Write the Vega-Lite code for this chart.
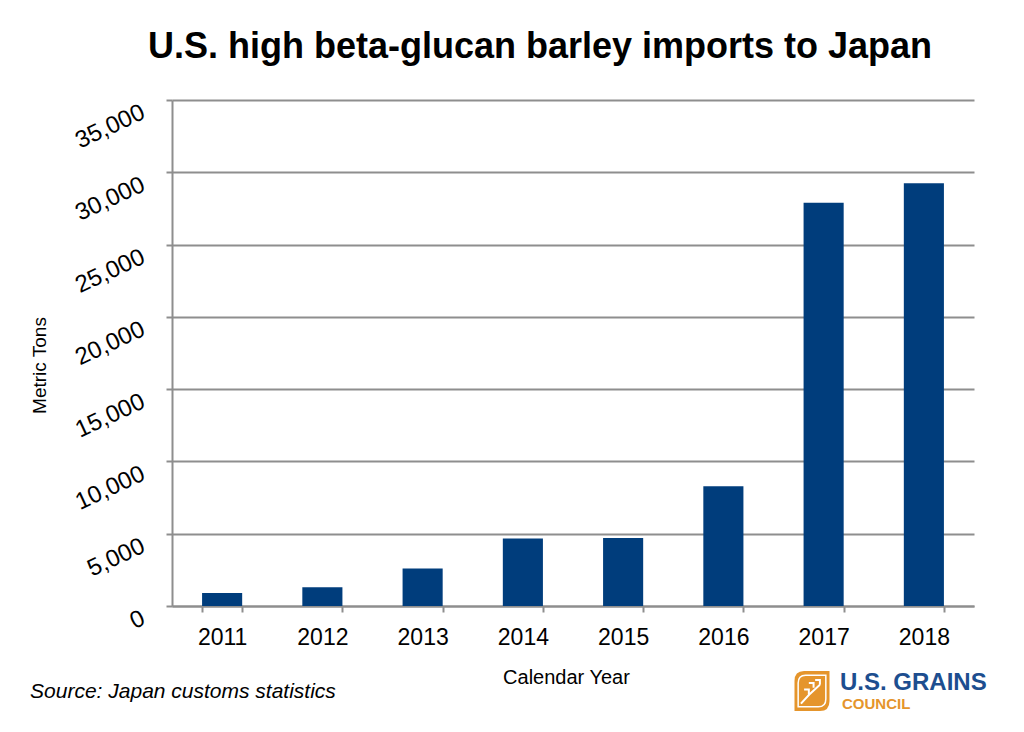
{
  "$schema": "https://vega.github.io/schema/vega-lite/v6.json",
  "width": 802,
  "height": 506,
  "autosize": {"type": "none"},
  "padding": {"left": 172, "top": 100, "right": 50, "bottom": 126},
  "background": "white",
  "title": {
    "text": "U.S. high beta-glucan barley imports to Japan",
    "font": "Liberation Sans",
    "fontSize": 36,
    "fontWeight": "bold",
    "color": "black",
    "anchor": "middle",
    "frame": "group",
    "dx": -33,
    "offset": 5,
    "baseline": "alphabetic"
  },
  "config": {
    "font": "Liberation Sans",
    "view": {"stroke": null}
  },
  "layer": [
    {
      "data": {
        "values": [
          {"year": "2011", "tons": 900},
          {"year": "2012", "tons": 1290},
          {"year": "2013", "tons": 2590},
          {"year": "2014", "tons": 4670},
          {"year": "2015", "tons": 4710},
          {"year": "2016", "tons": 8290},
          {"year": "2017", "tons": 27900},
          {"year": "2018", "tons": 29250}
        ]
      },
      "mark": {"type": "bar", "color": "#003d7c"},
      "encoding": {
        "x": {
          "field": "year",
          "type": "ordinal",
          "scale": {"paddingInner": 0.6, "paddingOuter": 0.3},
          "axis": {
            "title": "Calendar Year",
            "labelAngle": 0,
            "labelFontSize": 23,
            "labelColor": "black",
            "labelPadding": 14,
            "tickBand": "extent",
            "tickSize": 6,
            "tickColor": "#8e8e8e",
            "tickWidth": 2,
            "domainColor": "#8e8e8e",
            "domainWidth": 2,
            "grid": false,
            "titleFontSize": 20,
            "titleFontWeight": "normal",
            "titleColor": "black",
            "titleX": 394,
            "titleY": 77,
            "titleAlign": "center",
            "titleBaseline": "alphabetic"
          }
        },
        "y": {
          "field": "tons",
          "type": "quantitative",
          "scale": {"domain": [0, 35000]},
          "axis": {
            "title": "Metric Tons",
            "values": [0, 5000, 10000, 15000, 20000, 25000, 30000, 35000],
            "format": ",.0f",
            "labelAngle": -25,
            "labelAlign": "right",
            "labelBaseline": "top",
            "labelPadding": 28,
            "labelFontSize": 24,
            "labelColor": "black",
            "labelFlush": false,
            "labelOverlap": false,
            "tickSize": 6,
            "tickColor": "#8e8e8e",
            "tickWidth": 2,
            "domainColor": "#8e8e8e",
            "domainWidth": 2,
            "grid": true,
            "gridColor": "#8e8e8e",
            "gridWidth": 2,
            "titleFontSize": 19,
            "titleFontWeight": "normal",
            "titleColor": "black",
            "titleX": -133,
            "titleY": 265,
            "titleAngle": -90,
            "titleAlign": "center",
            "titleBaseline": "middle"
          }
        }
      }
    },
    {
      "data": {"values": [{"label": "Source: Japan customs statistics"}]},
      "mark": {
        "type": "text",
        "align": "left",
        "baseline": "alphabetic",
        "fontSize": 21,
        "fontStyle": "italic",
        "color": "black",
        "dx": -172,
        "dy": 92
      },
      "encoding": {
        "x": {"datum": "2011", "type": "ordinal", "bandPosition": 0},
        "y": {"datum": 0, "type": "quantitative", "scale": {"domain": [0, 35000]}},
        "text": {"field": "label"}
      }
    },
    {
      "data": {"values": [{"part": "badge"}]},
      "mark": {
        "type": "point",
        "filled": true,
        "color": "#e5952c",
        "opacity": 1,
        "size": 1600,
        "shape": "M-0.875,-0.5 Q-0.875,-1 -0.4,-1 L0.875,-1 L0.875,0.5 Q0.875,1 0.4,1 L-0.875,1 Z"
      },
      "encoding": {
        "x": {"datum": "2017", "type": "ordinal", "bandPosition": 0.21},
        "y": {"datum": -5880, "type": "quantitative", "scale": {"domain": [0, 35000]}}
      }
    },
    {
      "data": {"values": [{"part": "badge outline"}]},
      "mark": {
        "type": "point",
        "filled": false,
        "stroke": "white",
        "strokeWidth": 1.5,
        "opacity": 1,
        "size": 1000,
        "shape": "M-0.875,-0.5 Q-0.875,-1 -0.4,-1 L0.875,-1 L0.875,0.5 Q0.875,1 0.4,1 L-0.875,1 Z"
      },
      "encoding": {
        "x": {"datum": "2017", "type": "ordinal", "bandPosition": 0.21},
        "y": {"datum": -5880, "type": "quantitative", "scale": {"domain": [0, 35000]}}
      }
    },
    {
      "data": {"values": [{"part": "badge stem"}]},
      "mark": {
        "type": "point",
        "filled": false,
        "stroke": "white",
        "strokeWidth": 2,
        "opacity": 1,
        "size": 1000,
        "shape": "M-0.7,0.8 Q-0.2,0.2 0.5,-0.4 M-0.2,-0.5 L0.1,-0.5 L0.1,-0.2 M0.2,-0.7 L0.5,-0.7 L0.5,-0.4 M-0.5,-0.1 L-0.2,-0.1 L-0.2,0.2"
      },
      "encoding": {
        "x": {"datum": "2017", "type": "ordinal", "bandPosition": 0.21},
        "y": {"datum": -5880, "type": "quantitative", "scale": {"domain": [0, 35000]}}
      }
    },
    {
      "data": {"values": [{"label": "U.S. GRAINS"}]},
      "mark": {
        "type": "text",
        "align": "left",
        "baseline": "alphabetic",
        "fontSize": 24,
        "fontWeight": "bold",
        "color": "#1d4e8f",
        "dx": 28,
        "dy": 84
      },
      "encoding": {
        "x": {"datum": "2017", "type": "ordinal", "bandPosition": 0.21},
        "y": {"datum": 0, "type": "quantitative", "scale": {"domain": [0, 35000]}},
        "text": {"field": "label"}
      }
    },
    {
      "data": {"values": [{"label": "COUNCIL"}]},
      "mark": {
        "type": "text",
        "align": "left",
        "baseline": "alphabetic",
        "fontSize": 15,
        "fontWeight": "bold",
        "color": "#e5952c",
        "dx": 30,
        "dy": 103
      },
      "encoding": {
        "x": {"datum": "2017", "type": "ordinal", "bandPosition": 0.21},
        "y": {"datum": 0, "type": "quantitative", "scale": {"domain": [0, 35000]}},
        "text": {"field": "label"}
      }
    }
  ]
}
